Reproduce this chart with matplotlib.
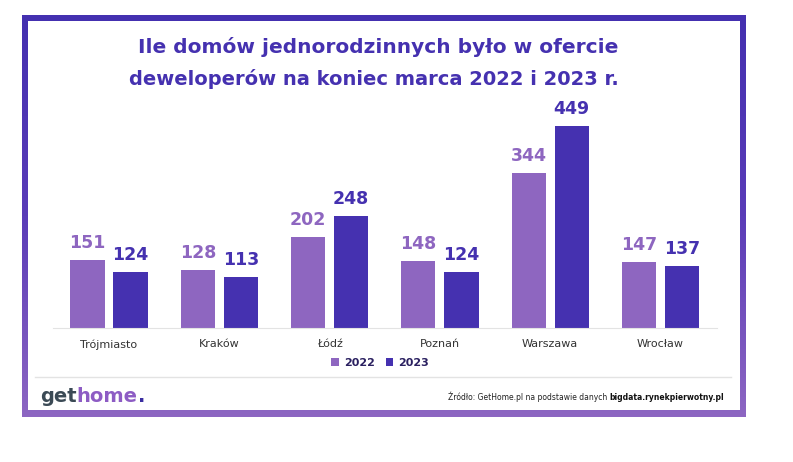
import numpy as np
import matplotlib.pyplot as plt
from matplotlib.patches import Rectangle
from matplotlib.colors import LinearSegmentedColormap

cities = ['Trójmiasto', 'Kraków', 'Łódź', 'Poznań', 'Warszawa', 'Wrocław']
values_2022 = [151, 128, 202, 148, 344, 147]
values_2023 = [124, 113, 248, 124, 449, 137]
years = ['2022', '2023']

c2022 = '#8e66c0'
c2023 = '#4531b0'
title_color = '#4531b0'

W, H = 793, 462
fig = plt.figure(figsize=(W / 100, H / 100), dpi=100)

def px(x, y):
    # pixel coords (from top-left) to figure fraction
    return x / W, 1 - y / H

# frame with vertical gradient
bg = fig.add_axes([0, 0, 1, 1])
bg.set_xlim(0, W)
bg.set_ylim(H, 0)
bg.axis('off')
cmap = LinearSegmentedColormap.from_list('frame', ['#4430b0', '#5a3cb8', '#8d66c2'])
grad = np.linspace(0, 1, 256).reshape(-1, 1)
bg.imshow(grad, cmap=cmap, aspect='auto', extent=(22, 746, 417, 15), zorder=0)
bg.add_patch(Rectangle((28, 21), 712, 389, facecolor='white', edgecolor='none', zorder=1))
bg.plot([35, 731], [377, 377], color='#e3e3e3', lw=1, zorder=2)

# title
fig.text(*px(378, 47), 'Ile domów jednorodzinnych było w ofercie', ha='center', va='center',
         fontsize=14.5, fontweight='bold', color=title_color)
fig.text(*px(374, 79), 'deweloperów na koniec marca 2022 i 2023 r.', ha='center', va='center',
         fontsize=14, fontweight='bold', color=title_color)

# bar chart
ax = fig.add_axes([52.7 / W, 1 - 328 / H, (716.8 - 52.7) / W, (328 - 100) / H])
x = np.arange(len(cities))
bw = 0.31
off = 0.195
b1 = ax.bar(x - off, values_2022, bw, color=c2022, label=years[0], zorder=2)
b2 = ax.bar(x + off, values_2023, bw, color=c2023, label=years[1], zorder=2)
ax.set_xlim(-0.51, 5.51)
ax.set_ylim(0, 228 / 0.45)
for bars, col in ((b1, c2022), (b2, c2023)):
    ax.bar_label(bars, padding=6, fontsize=12.5, fontweight='bold', color=col)
for s in ['top', 'right', 'left']:
    ax.spines[s].set_visible(False)
ax.spines['bottom'].set_color('#e3e3e3')
ax.set_yticks([])
ax.set_xticks(x)
ax.set_xticklabels(cities, fontsize=8, color='#333333')
ax.tick_params(axis='x', length=0, pad=8)
ax.set_facecolor('none')

leg = fig.legend(handles=[b1, b2], labels=years, loc='center', bbox_to_anchor=px(380, 363),
                 ncol=2, frameon=False, fontsize=8, handlelength=0.7, handleheight=0.7,
                 handletextpad=0.4, columnspacing=1.0)
for t in leg.get_texts():
    t.set_fontweight('bold')
    t.set_color('#2a2060')

# logo
lx, ly = px(40, 397)
t1 = fig.text(lx, ly, 'get', fontsize=14, fontweight='bold', color='#3b4a55', va='center')
fig.canvas.draw()
r = fig.canvas.get_renderer()
e = t1.get_window_extent(r)
t2 = fig.text(e.x1 / W, ly, 'home', fontsize=14, fontweight='bold', color='#8d5cc4', va='center')
e2 = t2.get_window_extent(r)
fig.text(e2.x1 / W, ly, '.', fontsize=14, fontweight='bold', color='#3a2ea0', va='center')

# source
sx, sy = px(724, 397)
tb = fig.text(sx, sy, 'bigdata.rynekpierwotny.pl', fontsize=5.5, fontweight='bold',
              color='#111111', ha='right', va='center')
eb = tb.get_window_extent(r)
fig.text(eb.x0 / W, sy, 'Źródło: GetHome.pl na podstawie danych ', fontsize=5.5,
         color='#222222', ha='right', va='center')

fig.savefig('out.png', dpi=100)
